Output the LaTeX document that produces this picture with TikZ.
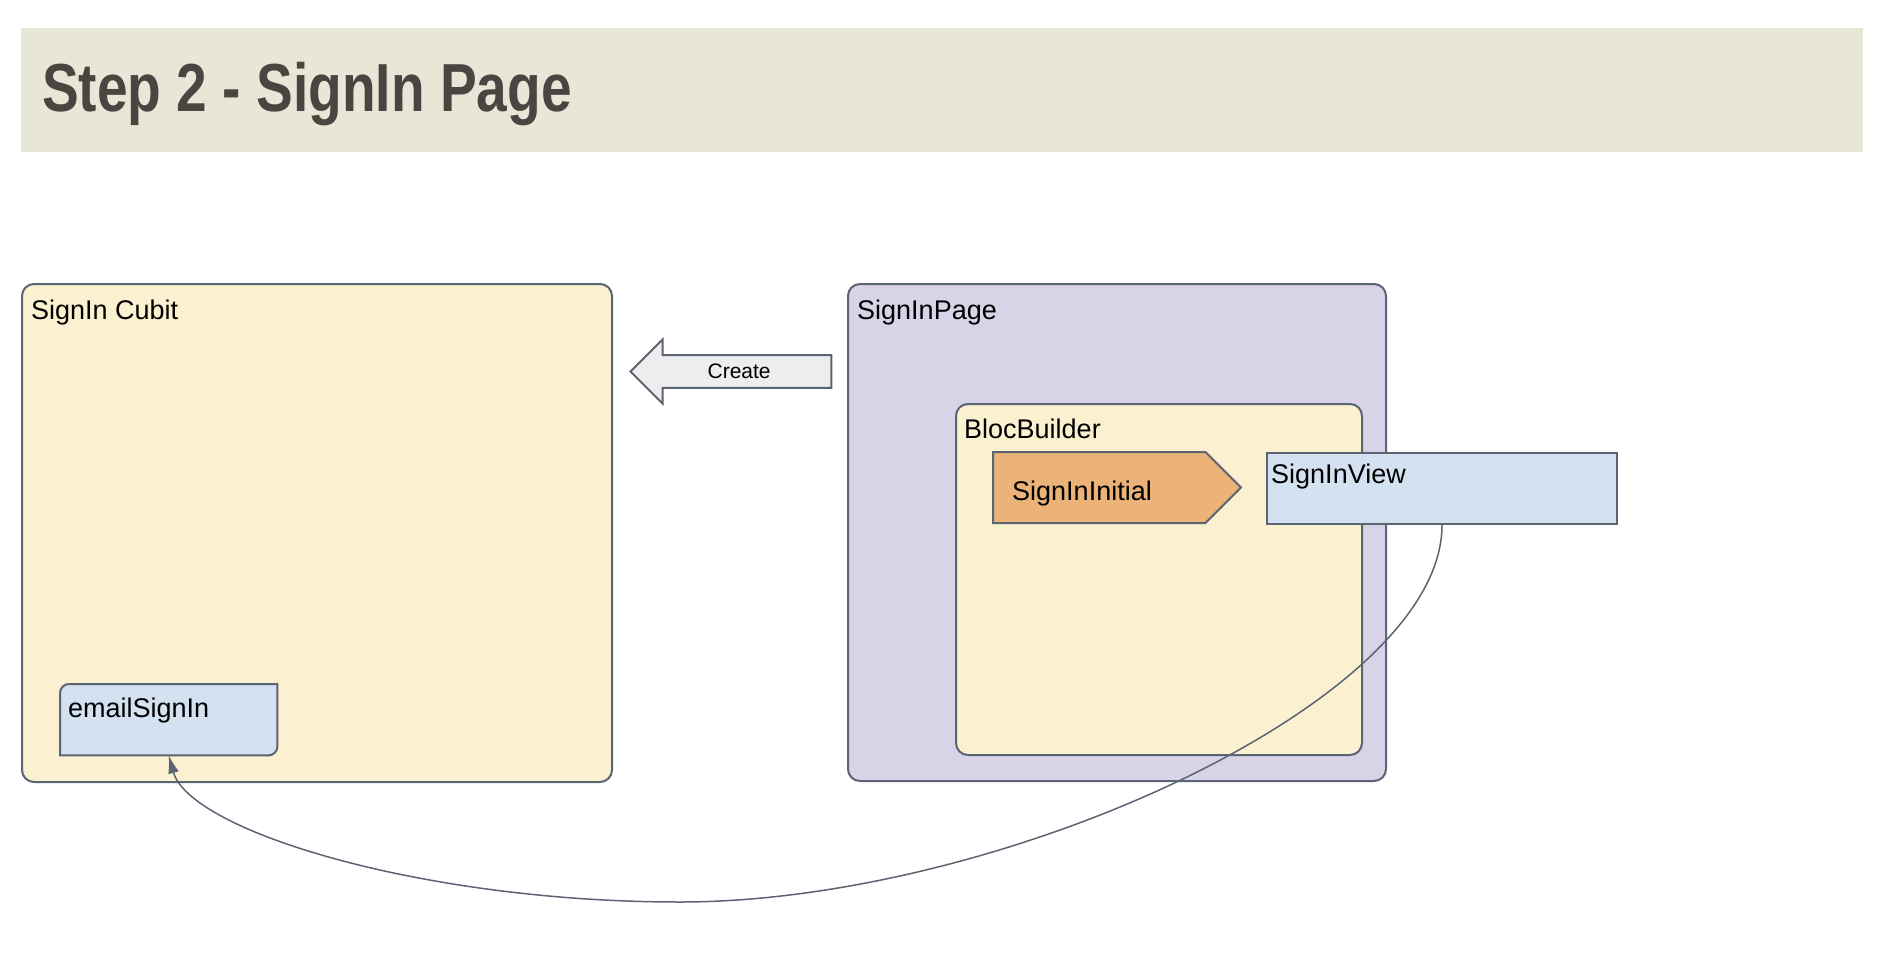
\documentclass[tikz,border=0pt]{standalone}
\usepackage{fontspec}
\setmainfont{Liberation Sans}
\newfontfamily\titlefont[FakeStretch=0.81]{Liberation Sans}
\usetikzlibrary{arrows.meta, shapes.arrows, shapes.symbols, positioning}
\definecolor{band}{HTML}{E8E6D6}
\definecolor{titletext}{HTML}{4A4541}
\definecolor{edge}{HTML}{5B6472}
\definecolor{cubitfill}{HTML}{FBF0CF}
\definecolor{pagefill}{HTML}{D8D3E6}
\definecolor{statefill}{HTML}{EBB377}
\definecolor{viewfill}{HTML}{D4E1F1}
\definecolor{createfill}{HTML}{EDEDED}
\tikzstyle{frame} = [draw=edge, line width=2pt, rounded corners=12pt, anchor=north west, inner sep=0]
\tikzstyle{caption} = [anchor=base west, inner sep=0, font=\fontsize{27}{32}\selectfont]
\tikzstyle{link} = [draw=edge, line width=1.5pt, -{Latex[length=18pt,width=11pt]}]

\begin{document}
\begin{tikzpicture}[x=1pt,y=-1pt]
  \useasboundingbox (0,0) rectangle (1884,960);
  \node[fill=band, anchor=north west, inner sep=0, minimum width=1842pt, minimum height=124pt] (band) at (21,28) {};
  \node[anchor=base west, inner sep=0, text=titletext, font=\titlefont\bfseries\fontsize{68}{80}\selectfont] (title) at (42,112) {Step 2 - SignIn Page};

  % containers
  \node[frame, fill=cubitfill, minimum width=590pt, minimum height=498pt] (cubit) at (21,283) {};
  \node[frame, fill=pagefill, minimum width=538pt, minimum height=497pt] (page) at (847,283) {};
  \node[frame, fill=cubitfill, minimum width=406pt, minimum height=351pt] (bloc) at (955,403) {};
  \node[caption] (cubittext) at (31,319) {SignIn Cubit};
  \node[caption] (pagetext) at (857,319) {SignInPage};
  \node[caption] (bloctext) at (964,438) {BlocBuilder};

  % inner parts
  \node[signal, signal to=east, signal pointer angle=90, draw=edge, line width=2pt, fill=statefill,
        inner sep=0, minimum width=248pt, minimum height=71pt, anchor=west] (initial) at (992,487.5) {};
  \node[caption] (initialtext) at (1012,500) {SignInInitial};
  \node[draw=edge, line width=2pt, fill=viewfill, anchor=north west, inner sep=0,
        minimum width=350pt, minimum height=71pt] (view) at (1266,452) {};
  \node[caption] (viewtext) at (1271,483) {SignInView};
  \node[anchor=north west, inner sep=0, minimum width=217pt, minimum height=71pt] (email) at (60,684) {};
  \draw[draw=edge, line width=2pt, fill=viewfill] (email.west) [rounded corners=9pt] -- (email.north west)
        [sharp corners] -- (email.north east) [rounded corners=9pt] -- (email.south east)
        [sharp corners] -- (email.south west) -- cycle;
  \node[caption] (emailtext) at (68,717) {emailSignIn};

  % create arrow
  \node[single arrow, shape border rotate=180, draw=edge, line width=2pt, fill=createfill,
        single arrow head extend=15.85pt, single arrow tip angle=90, single arrow head indent=0pt,
        inner xsep=4pt, inner ysep=8pt, minimum height=201pt, anchor=tip,
        font=\fontsize{21}{25}\selectfont] (create) at (629,371.5) {Create};

  % link from the view back to the cubit
  \coordinate (low) at (680,902);
  \draw[link] (view.south) .. controls +(0,177) and +(320,0) .. (low)
        .. controls +(-260,0) and +(21,75) .. (email.south);
\end{tikzpicture}
\end{document}
